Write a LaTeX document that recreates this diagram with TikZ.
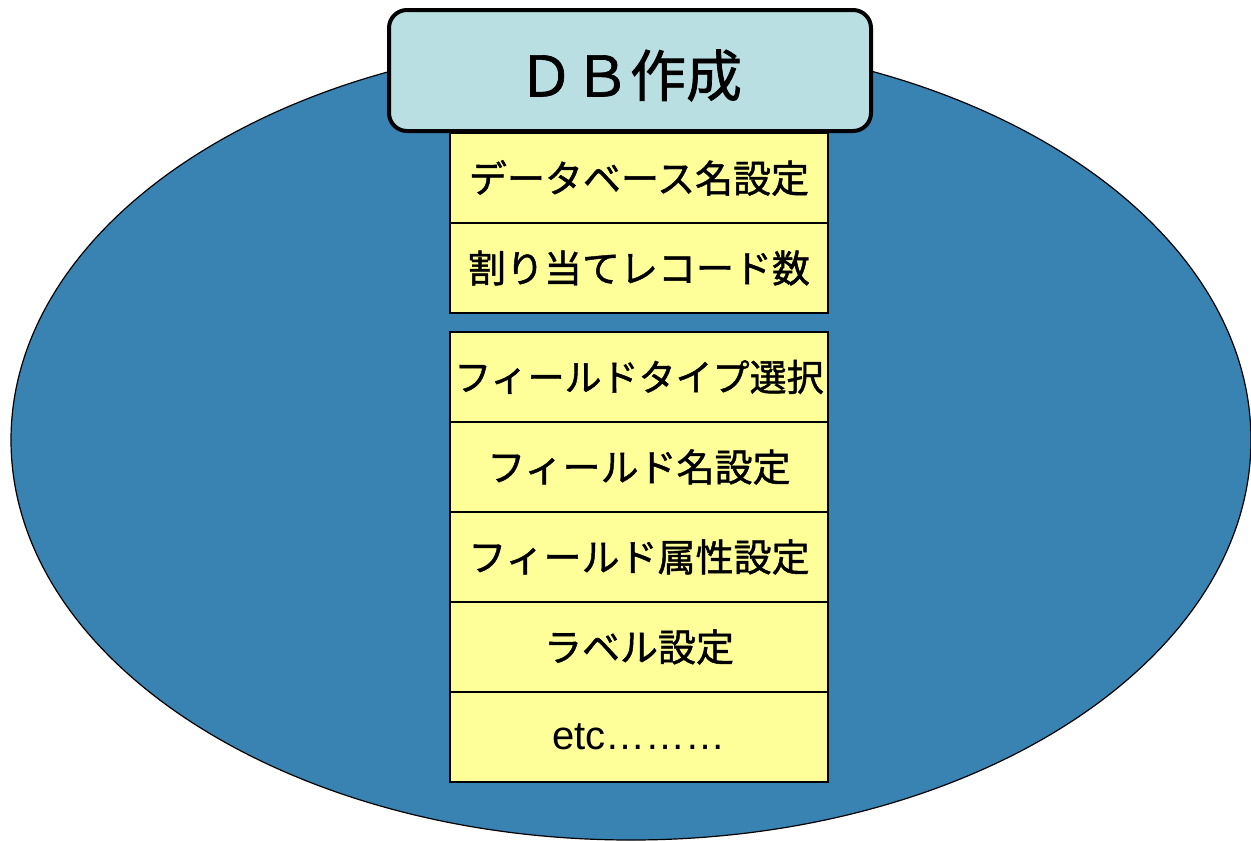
\documentclass[tikz,border=0pt]{standalone}
\usepackage{fontspec}
\newfontfamily\jpfont[FakeBold=1.2]{Noto Sans CJK JP}
\newfontfamily\latinfont{Liberation Sans}
\usetikzlibrary{positioning}
\definecolor{dbblue}{RGB}{56,131,178}
\definecolor{dbcyan}{RGB}{185,223,227}
\definecolor{dbyellow}{RGB}{255,255,153}

\begin{document}
\begin{tikzpicture}[x=1pt,y=-1pt,node distance=90pt,on grid,
    item/.style={draw,fill=dbyellow,line width=1.2pt,minimum width=378pt,minimum height=90pt,inner sep=0pt,
      font=\jpfont\fontsize{38}{42}\selectfont}]
    \useasboundingbox (0,0) rectangle (1251,841);
    \draw[fill=dbblue,line width=1.2pt] (631,440) ellipse [x radius=620pt, y radius=400pt];

    \node[item] (dbname) at (639,178) {データベース名設定};
    \node[item] (records) [below=of dbname] {割り当てレコード数};
    \node[item,font=\jpfont\fontsize{37}{42}\selectfont] (fieldtype) [below=109pt of records] {フィールドタイプ選択};
    \node[item] (fieldname) [below=of fieldtype] {フィールド名設定};
    \node[item] (fieldattr) [below=of fieldname] {フィールド属性設定};
    \node[item] (label) [below=of fieldattr] {ラベル設定};
    \node[item,font=\latinfont\fontsize{40}{44}\selectfont] (etc) [below=of label] {etc………};

    \node[draw,fill=dbcyan,line width=4pt,rounded corners=18pt,minimum width=482pt,minimum height=121pt,
      text height=59pt,text depth=7pt,font=\jpfont\fontsize{56}{60}\selectfont] (title) at (630,70.5) {ＤＢ作成};
  \end{tikzpicture}
\end{document}
